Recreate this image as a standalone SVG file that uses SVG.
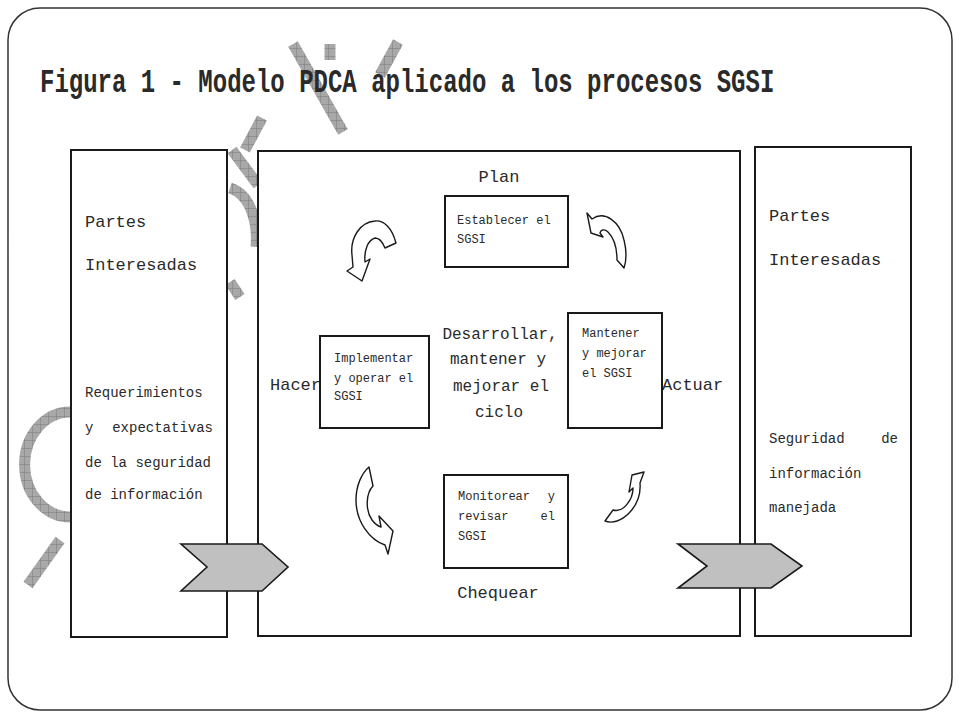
<svg xmlns="http://www.w3.org/2000/svg" width="960" height="720" viewBox="0 0 960 720">
<defs>
<pattern id="hatch" width="8" height="8" patternUnits="userSpaceOnUse">
<rect width="8" height="8" fill="#a8a8a8"/>
<path d="M0,0 H8 M0,0 V8" stroke="#7a7a7a" stroke-width="1"/>
</pattern>
<style>
.box{fill:#fff;stroke:#1a1a1a;stroke-width:2}
.sbox{fill:#fff;stroke:#1a1a1a;stroke-width:2}
.t{font-family:"Liberation Mono","Courier New",monospace;fill:#2a2a2a}
.big{font-size:17px}
.cen{font-size:16px}
.mid{font-size:14px}
.sm{font-size:12px}
.curl{fill:#fff;stroke:#1a1a1a;stroke-width:1.4;stroke-linejoin:round}
.chev{fill:#c0c0c0;stroke:#1a1a1a;stroke-width:1.6;stroke-linejoin:miter}
.wm{fill:none;stroke:url(#hatch);stroke-width:11;stroke-linecap:butt}
</style>
</defs>
<rect x="0" y="0" width="960" height="720" fill="#fff"/>
<rect x="8" y="8" width="944" height="702" rx="32" ry="32" fill="#fff" stroke="#333" stroke-width="1.5"/>

<g id="watermark">
<path class="wm" d="M70,412 A45,52 0 0 0 70,517"/>
<path class="wm" d="M60,540 L28,585"/>
<path class="wm" d="M232,150 L258,185"/>
<path class="wm" d="M230,188 C252,195 258,225 256,247"/>
<path class="wm" d="M230,282 L240,297"/>
<path class="wm" d="M245,150 L262,118"/>
<path class="wm" d="M293,44 L343,132"/>
<path class="wm" d="M330,44 L330,60"/>
<path class="wm" d="M398,42 L380,75"/>
</g>

<text class="t" transform="translate(40,92) scale(1,1.4)" x="0" y="0" font-size="24" font-weight="bold" fill="#1a1a1a">Figura 1 - Modelo PDCA aplicado a los procesos SGSI</text>

<g id="left-parties">
<rect class="box" x="71" y="150" width="156" height="487"/>
<text class="t big" x="85" y="227">Partes</text>
<text class="t big" x="85" y="270">Interesadas</text>
<text class="t mid" x="85" y="397">Requerimientos</text>
<text class="t mid" x="85" y="432">y</text>
<text class="t mid" x="213" y="432" text-anchor="end">expectativas</text>
<text class="t mid" x="85" y="467">de la seguridad</text>
<text class="t mid" x="85" y="499">de información</text>
</g>

<g id="pdca">
<rect class="box" x="258" y="151" width="482" height="485"/>
<text class="t big" x="499" y="182" text-anchor="middle">Plan</text>
<text class="t big" x="270" y="390">Hacer</text>
<text class="t big" x="662" y="390">Actuar</text>
<text class="t big" x="498" y="598" text-anchor="middle">Chequear</text>
<text class="t cen" x="500" y="339" text-anchor="middle">Desarrollar,</text>
<text class="t cen" x="498" y="364" text-anchor="middle">mantener y</text>
<text class="t cen" x="501" y="391" text-anchor="middle">mejorar el</text>
<text class="t cen" x="499" y="417" text-anchor="middle">ciclo</text>
</g>

<g id="plan-box">
<rect class="sbox" x="445" y="196" width="123" height="71"/>
<text class="t sm" x="457" y="224">Establecer el</text>
<text class="t sm" x="457" y="243">SGSI</text>
</g>

<g id="do-box">
<rect class="sbox" x="320" y="336" width="109" height="92"/>
<text class="t sm" x="334" y="362">Implementar</text>
<text class="t sm" x="334" y="382">y operar el</text>
<text class="t sm" x="334" y="400">SGSI</text>
</g>

<g id="act-box">
<rect class="sbox" x="568" y="313" width="94" height="115"/>
<text class="t sm" x="582" y="337">Mantener</text>
<text class="t sm" x="582" y="357">y mejorar</text>
<text class="t sm" x="582" y="377">el SGSI</text>
</g>

<g id="check-box">
<rect class="sbox" x="444" y="475" width="124" height="93"/>
<text class="t sm" x="458" y="500">Monitorear</text>
<text class="t sm" x="555" y="500" text-anchor="end">y</text>
<text class="t sm" x="458" y="520">revisar</text>
<text class="t sm" x="555" y="520" text-anchor="end">el</text>
<text class="t sm" x="458" y="540">SGSI</text>
</g>

<g id="right-parties">
<rect class="box" x="755" y="147" width="156" height="489"/>
<text class="t big" x="769" y="221">Partes</text>
<text class="t big" x="769" y="265">Interesadas</text>
<text class="t mid" x="769" y="443">Seguridad</text>
<text class="t mid" x="898" y="443" text-anchor="end">de</text>
<text class="t mid" x="769" y="478">información</text>
<text class="t mid" x="769" y="512">manejada</text>
</g>

<g id="connectors">
<path class="curl" d="M396,243 C392,228 384,220 375,221 C360,222 350,238 352,255 L353,267 L347,271 L362,281 L370,259 L365,262 C364,250 368,240 375,238 C380,238 383,243 385,248 Z"/>
<path class="curl" d="M587,213 L592,219 C605,210 620,222 624,240 C627,252 626,262 624,268 L617,260 C617,248 614,238 608,232 C605,229 601,229 600,233 L603,237 L591,233 Z"/>
<path class="curl" d="M369,467 L373,486 C366,493 365,510 372,520 C375,524 378,526 381,527 L379,516 L393,531 L388,554 L385,545 C370,540 356,522 356,500 C356,485 362,473 369,467 Z"/>
<path class="curl" d="M605,521 C620,527 642,507 640,483 L644,472 L632,475 L629,492 L633,488 C633,500 623,513 613,510 Z"/>
<polygon class="chev" points="181,544 262,544 288,567 262,591 181,591 207,567"/>
<polygon class="chev" points="678,544 771,544 802,566 771,588 678,588 707,566"/>
</g>
</svg>
